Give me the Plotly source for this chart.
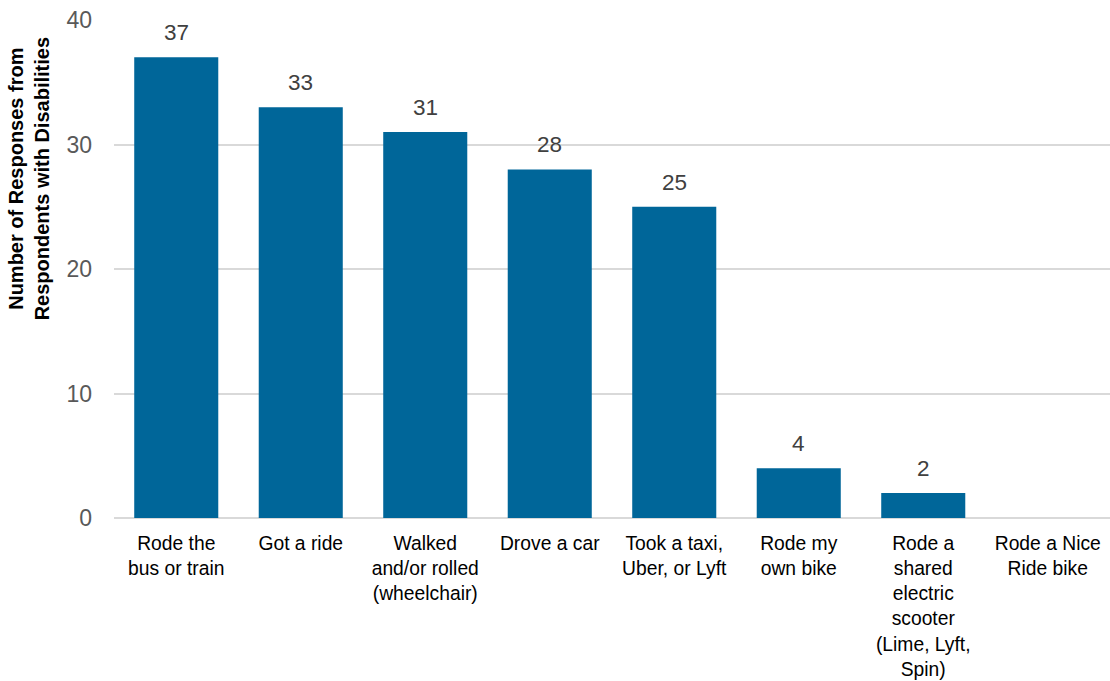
import plotly.graph_objects as go

categories = [
    "Rode the<br>bus or train",
    "Got a ride",
    "Walked<br>and/or rolled<br>(wheelchair)",
    "Drove a car",
    "Took a taxi,<br>Uber, or Lyft",
    "Rode my<br>own bike",
    "Rode a<br>shared<br>electric<br>scooter<br>(Lime, Lyft,<br>Spin)",
    "Rode a Nice<br>Ride bike",
]
values = [37, 33, 31, 28, 25, 4, 2, 0]
y_ticks = [0, 10, 20, 30, 40]
y_title = "<b>Number of Responses from<br>Respondents with Disabilities</b>"

FONT = "Liberation Sans, Arial"

fig = go.Figure(
    go.Bar(
        x=categories,
        y=values,
        marker=dict(color="#006699", line=dict(width=0)),
        cliponaxis=False,
    )
)

annotations = []
for c, v in zip(categories, values):
    if v > 0:
        annotations.append(
            dict(
                x=c, y=v, xref="x", yref="y",
                text=str(v), showarrow=False,
                yanchor="bottom", yshift=10,
                font=dict(size=22.5, color="#404040", family=FONT),
            )
        )
annotations.append(
    dict(
        x=(29 - 114) / 996, y=0.68, xref="paper", yref="paper",
        text=y_title, showarrow=False, textangle=-90,
        xanchor="center", yanchor="middle",
        font=dict(size=20, color="#000000", family=FONT),
    )
)

fig.update_layout(
    width=1110,
    height=681,
    margin=dict(l=114, r=0, t=20, b=163),
    plot_bgcolor="white",
    paper_bgcolor="white",
    bargap=0.325,
    showlegend=False,
    font=dict(family=FONT, color="#000000"),
    annotations=annotations,
    xaxis=dict(
        tickfont=dict(size=19.3, color="#000000"),
        ticks="outside",
        ticklen=8,
        tickcolor="rgba(0,0,0,0)",
        showline=False,
        showgrid=False,
        tickangle=0,
        automargin=False,
    ),
    yaxis=dict(
        range=[0, 40],
        tickvals=y_ticks,
        tickfont=dict(size=23, color="#595959"),
        showgrid=True,
        gridcolor="#d9d9d9",
        gridwidth=2,
        zeroline=True,
        zerolinecolor="#d9d9d9",
        zerolinewidth=2,
        ticklabelstandoff=21,
        automargin=False,
    ),
)

fig.write_html("out.html")
